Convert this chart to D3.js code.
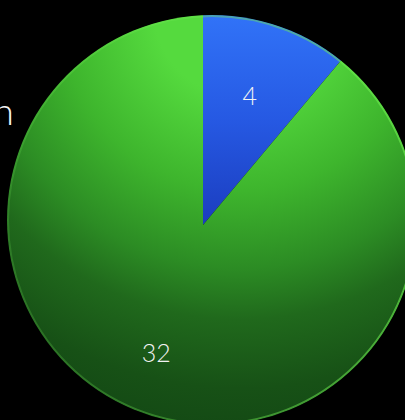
<!DOCTYPE html>
<html>
<head>
<meta charset="utf-8">
<script src="https://cdn.jsdelivr.net/npm/d3@7"></script>
<style>
  html, body { margin: 0; padding: 0; background: #000; overflow: hidden; }
  svg { display: block; }
</style>
</head>
<body>
<script>
// Two-slice pie: a small blue share against a large green share
const categories = ["Blue", "Green"];
const values = [4, 32];
const labels = ["4", "32"];

const width = 405, height = 420;
// slice apex, and the disc outline the slices are cut to (seen slightly off-axis)
const apex = { x: 203, y: 225 };
const disc = { x: 212, y: 220, r: 205 };
const labelRadius = 137;

const svg = d3.select("body").append("svg")
  .attr("width", width)
  .attr("height", height)
  .style("background", "#000");

const defs = svg.append("defs");

defs.append("clipPath")
  .attr("id", "disc-clip")
  .append("circle")
  .attr("cx", disc.x).attr("cy", disc.y).attr("r", disc.r);

// gradient coordinates are relative to the apex (the slices' origin)
const gBlue = defs.append("linearGradient")
  .attr("id", "grad-blue")
  .attr("gradientUnits", "userSpaceOnUse")
  .attr("x1", 0).attr("y1", 14 - apex.y)
  .attr("x2", 0).attr("y2", 0);
gBlue.append("stop").attr("offset", 0).attr("stop-color", "#3173f8");
gBlue.append("stop").attr("offset", 0.5).attr("stop-color", "#2659e3");
gBlue.append("stop").attr("offset", 1).attr("stop-color", "#1b3dbf");

// light falls from the upper part of the disc and fades toward the bottom
const gGreen = defs.append("radialGradient")
  .attr("id", "grad-green")
  .attr("gradientUnits", "userSpaceOnUse")
  .attr("cx", 240 - apex.x).attr("cy", 10 - apex.y)
  .attr("r", 430);
gGreen.append("stop").attr("offset", 0.2).attr("stop-color", "#55da3e");
gGreen.append("stop").attr("offset", 0.42).attr("stop-color", "#3eb52d");
gGreen.append("stop").attr("offset", 0.6).attr("stop-color", "#2c8c24");
gGreen.append("stop").attr("offset", 0.72).attr("stop-color", "#20691c");
gGreen.append("stop").attr("offset", 0.88).attr("stop-color", "#175116");
gGreen.append("stop").attr("offset", 1).attr("stop-color", "#134814");

const rimGrad = defs.append("linearGradient")
  .attr("id", "grad-rim")
  .attr("gradientUnits", "userSpaceOnUse")
  .attr("x1", disc.x - disc.r).attr("y1", 0)
  .attr("x2", disc.x + disc.r).attr("y2", 0);
rimGrad.append("stop").attr("offset", 0).attr("stop-color", "#6fe055").attr("stop-opacity", 0.2);
rimGrad.append("stop").attr("offset", 1).attr("stop-color", "#6ff050").attr("stop-opacity", 0.6);

const fills = ["url(#grad-blue)", "url(#grad-green)"];

const pie = d3.pie().sort(null).value(d => d);
const arcs = pie(values);

// outer radius reaches past the disc; the clip trims it to the outline
const arc = d3.arc().innerRadius(0).outerRadius(260);
const labelArc = d3.arc().innerRadius(labelRadius).outerRadius(labelRadius);

const plot = svg.append("g").attr("clip-path", "url(#disc-clip)");

plot.append("g")
  .attr("transform", `translate(${apex.x},${apex.y})`)
  .selectAll("path.slice")
  .data(arcs)
  .join("path")
  .attr("class", "slice")
  .attr("d", arc)
  .attr("fill", (d, i) => fills[i]);

// soft rim around the disc
plot.append("circle")
  .attr("cx", disc.x).attr("cy", disc.y)
  .attr("r", disc.r - 1)
  .attr("fill", "none")
  .attr("stroke", "url(#grad-rim)")
  .attr("stroke-width", 2);

svg.append("g")
  .attr("transform", `translate(${apex.x},${apex.y})`)
  .selectAll("text")
  .data(arcs)
  .join("text")
  .attr("transform", d => `translate(${labelArc.centroid(d)})`)
  .attr("text-anchor", "middle")
  .attr("dy", "0.35em")
  .attr("fill", "#f2f2f2")
  .style("font-family", "'Helvetica Neue', Lato, 'Open Sans', sans-serif")
  .style("font-weight", 300)
  .style("font-size", "25px")
  .text((d, i) => labels[i]);

// title text at the left edge
svg.append("text")
  .attr("x", 14)
  .attr("y", 125)
  .attr("text-anchor", "end")
  .attr("fill", "#f2f2f2")
  .style("font-family", "'Helvetica Neue', Lato, 'Open Sans', sans-serif")
  .style("font-weight", 300)
  .style("font-size", "38px")
  .text("n");
</script>
</body>
</html>
